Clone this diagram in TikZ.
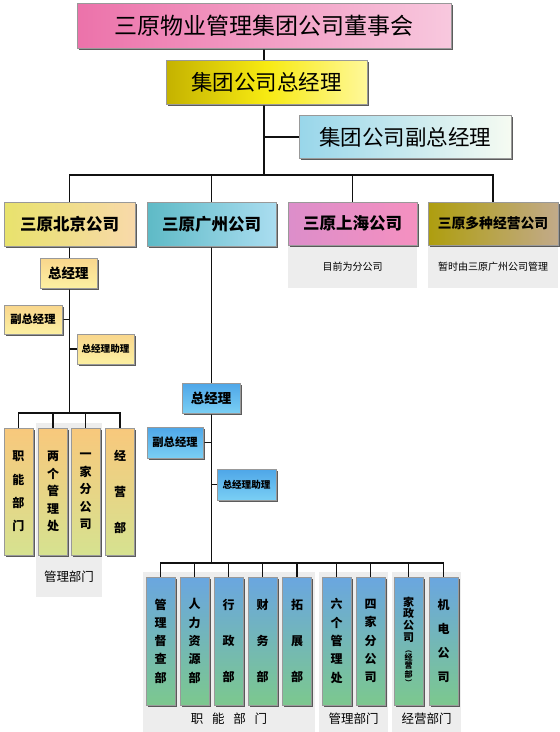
\documentclass[tikz,border=0pt]{standalone}
\usepackage{fontspec}
\setmainfont{Noto Sans CJK SC}
\usetikzlibrary{shadows}
\pgfdeclarelayer{whitelayer}
\pgfdeclarelayer{graylayer}
\pgfdeclarelayer{linelayer}
\pgfsetlayers{whitelayer,graylayer,linelayer,main}
\definecolor{lnk}{HTML}{111111}
\definecolor{HTMLboardL}{HTML}{EC72AA}
\definecolor{HTMLboardR}{HTML}{F8C8DE}
\definecolor{HTMLgmL}{HTML}{C4B200}
\definecolor{HTMLgmM}{HTML}{F7EA12}
\definecolor{HTMLgmR}{HTML}{FFF89A}
\definecolor{HTMLvgmL}{HTML}{98D6EA}
\definecolor{HTMLvgmR}{HTML}{F6FBF2}
\definecolor{HTMLbjL}{HTML}{E8E26C}
\definecolor{HTMLbjR}{HTML}{F8D9AA}
\definecolor{HTMLgzL}{HTML}{5EBAC6}
\definecolor{HTMLgzR}{HTML}{AADDF0}
\definecolor{HTMLshL}{HTML}{DC8ECA}
\definecolor{HTMLshR}{HTML}{F590C0}
\definecolor{HTMLdzL}{HTML}{AE9E0E}
\definecolor{HTMLdzR}{HTML}{C2AA8A}
\definecolor{HTMLbjsT}{HTML}{F9D68C}
\definecolor{HTMLbjsB}{HTML}{FCF0A2}
\definecolor{HTMLbjtT}{HTML}{F8C87C}
\definecolor{HTMLbjtM}{HTML}{FFF6A6}
\definecolor{HTMLbjtB}{HTML}{D6E290}
\definecolor{HTMLgzsT}{HTML}{4EA6E8}
\definecolor{HTMLgzsB}{HTML}{7ACFF4}
\definecolor{HTMLgztT}{HTML}{6AA6E0}
\definecolor{HTMLgztM}{HTML}{82D0F0}
\definecolor{HTMLgztB}{HTML}{7CC88E}
\begin{document}
\begin{tikzpicture}[x=1pt,y=-1pt,
  sz/.style 2 args={minimum width=#1pt, minimum height=#2pt},
  box/.style={draw=black!40, line width=0.4pt, inner sep=0pt, text=black,
    drop shadow={shadow xshift=1.8pt, shadow yshift=-1.8pt, fill=black!75, opacity=0.85}},
  conn/.style={draw=lnk, line width=1.7pt},
  graybg/.style={fill=black!7, draw=none, inner sep=0pt},
  boardst/.style={box, left color=HTMLboardL, right color=HTMLboardR},
  gmst/.style={box, left color=HTMLgmL, right color=HTMLgmR, middle color=HTMLgmM},
  vgmst/.style={box, left color=HTMLvgmL, right color=HTMLvgmR},
  bjst/.style={box, left color=HTMLbjL, right color=HTMLbjR},
  gzst/.style={box, left color=HTMLgzL, right color=HTMLgzR},
  shst/.style={box, left color=HTMLshL, right color=HTMLshR},
  dzst/.style={box, left color=HTMLdzL, right color=HTMLdzR},
  bjsmall/.style={box, top color=HTMLbjsT, bottom color=HTMLbjsB},
  bjtall/.style={box, top color=HTMLbjtT, middle color=HTMLbjtM, bottom color=HTMLbjtB, align=center, sz={29}{127}},
  gzsmall/.style={box, top color=HTMLgzsT, bottom color=HTMLgzsB},
  gztall/.style={box, top color=HTMLgztT, middle color=HTMLgztM, bottom color=HTMLgztB, align=center, sz={29}{128}},
  bigf/.style={font=\fontsize{23}{26}\selectfont},
  midf/.style={font=\fontsize{21.5}{24}\selectfont},
  brf/.style={font=\bfseries\fontsize{16.5}{20}\selectfont},
  note/.style={font=\fontsize{10}{12}\selectfont},
]
\begin{pgfonlayer}{whitelayer}
\path[use as bounding box, fill=white] (0,0) rectangle (560,732);
\end{pgfonlayer}

% gray backgrounds
\begin{pgfonlayer}{graylayer}
\node[graybg, sz={129}{43}] (shnote) at (352.5,266.5) {};
\node[graybg, sz={130}{43}] (dznote) at (493,266.5) {};
\node[graybg, sz={66}{174}] (bjmg) at (69,510) {};
\node[graybg, sz={172}{160}] (gzzn) at (229,652) {};
\node[graybg, sz={69}{160}] (gzmg) at (353.5,652) {};
\node[graybg, sz={69}{160}] (gzjy) at (426.5,652) {};
\end{pgfonlayer}

% coordinates
\coordinate (bus) at (264,175);
\coordinate (bjbus) at (69.5,413);
\coordinate (gzbus) at (211.5,563);

% top
\node[boardst, bigf, sz={374}{45}] (board) at (264,25.5) {三原物业管理集团公司董事会};
\node[gmst, midf, sz={201}{44}] (gm) at (266.5,82) {集团公司总经理};
\node[vgmst, midf, sz={212}{43}] (vgm) at (405,137) {集团公司副总经理};

% branches
\node[bjst, brf, sz={131}{44}] (bj) at (69.5,224) {三原北京公司};
\node[gzst, brf, sz={129}{44}] (gz) at (211.5,224) {三原广州公司};
\node[shst, brf, sz={129}{43}] (sh) at (352.5,223.5) {三原上海公司};
\node[dzst, font=\bfseries\fontsize{13.8}{16}\selectfont, sz={130}{43}] (dz) at (493,223.5) {三原多种经营公司};

\node[note] (shtxt) at (shnote.center) {目前为分公司};
\node[note] (dztxt) at (dznote.center) {暂时由三原广州公司管理};

% Beijing
\node[bjsmall, font=\bfseries\fontsize{13.5}{15}\selectfont, sz={57}{30}] (bjgm) at (68.5,273) {总经理};
\node[bjsmall, font=\bfseries\fontsize{11.3}{13}\selectfont, sz={58}{29}] (bjvgm) at (33,319.5) {副总经理};
\node[bjsmall, font=\bfseries\fontsize{9.6}{12}\selectfont, sz={57}{30}] (bjast) at (105.5,349) {总经理助理};

\node[bjtall, font=\bfseries\fontsize{12}{23.3}\selectfont] (b1) at (18.5,491.5) {职\\能\\部\\门};
\node[bjtall, font=\bfseries\fontsize{12}{17.5}\selectfont] (b2) at (53,491.5) {两\\个\\管\\理\\处};
\node[bjtall, font=\bfseries\fontsize{12}{17.5}\selectfont] (b3) at (85.5,491.5) {一\\家\\分\\公\\司};
\node[bjtall, font=\bfseries\fontsize{12}{36}\selectfont] (b4) at (120,491.5) {经\\营\\部};
\node[font=\fontsize{12.5}{14}\selectfont] (bjmgtxt) at (69,577) {管理部门};

% Guangzhou
\node[gzsmall, font=\bfseries\fontsize{13.5}{15}\selectfont, sz={58}{30}] (gzgm) at (211,398) {总经理};
\node[gzsmall, font=\bfseries\fontsize{11.3}{13}\selectfont, sz={56}{31}] (gzvgm) at (175,442.5) {副总经理};
\node[gzsmall, font=\bfseries\fontsize{9.6}{12}\selectfont, sz={59}{31}] (gzast) at (246.5,484.5) {总经理助理};

\node[gztall, font=\bfseries\fontsize{12}{18.3}\selectfont] (g1) at (160.5,641) {管\\理\\督\\查\\部};
\node[gztall, font=\bfseries\fontsize{12}{18.3}\selectfont] (g2) at (194.5,641) {人\\力\\资\\源\\部};
\node[gztall, font=\bfseries\fontsize{12}{36}\selectfont] (g3) at (228.5,641) {行\\政\\部};
\node[gztall, font=\bfseries\fontsize{12}{36}\selectfont] (g4) at (262.5,641) {财\\务\\部};
\node[gztall, font=\bfseries\fontsize{12}{36}\selectfont] (g5) at (297,641) {拓\\展\\部};
\node[gztall, font=\bfseries\fontsize{12}{18.3}\selectfont] (g6) at (336.5,641) {六\\个\\管\\理\\处};
\node[gztall, font=\bfseries\fontsize{12}{18.3}\selectfont] (g7) at (370.5,641) {四\\家\\分\\公\\司};
\node[gztall, font=\bfseries\fontsize{11}{11.8}\selectfont] (g8) at (408.5,641) {家\\政\\公\\司\\[-1pt]{\fontsize{7}{8}\selectfont ︵}\\[-4pt]{\fontsize{8}{9}\selectfont 经}\\[-3pt]{\fontsize{8}{9}\selectfont 营}\\[-3pt]{\fontsize{8}{9}\selectfont 部}\\[-4pt]{\fontsize{7}{8}\selectfont ︶}};
\node[gztall, font=\bfseries\fontsize{12}{24}\selectfont] (g9) at (443.5,641) {机\\电\\公\\司};

\node[font=\fontsize{12.5}{14}\selectfont] (gzzntxt) at (229,719) {职\hspace{0.7em}能\hspace{0.7em}部\hspace{0.7em}门};
\node[font=\fontsize{12.5}{14}\selectfont] (gzmgtxt) at (353.5,719) {管理部门};
\node[font=\fontsize{12.5}{14}\selectfont] (gzjytxt) at (426.5,719) {经营部门};

% connectors
\begin{pgfonlayer}{linelayer}
\draw[conn] (board.south) -- (bus);
\draw[conn] (vgm.west) -- (vgm.west -| bus);
\draw[conn] (bj.north) -- (bj.north |- bus) -- (dz.north |- bus) -- (dz.north);
\draw[conn] (gz.north) -- (gz.north |- bus);
\draw[conn] (sh.north) -- (sh.north |- bus);
% Beijing
\draw[conn] (bj.south) -- (bjbus);
\draw[conn] (bjvgm.east) -- (bjvgm.east -| bjbus);
\draw[conn] (bjast.west) -- (bjast.west -| bjbus);
\draw[conn] (b1.north) -- (b1.north |- bjbus) -- (b4.north |- bjbus) -- (b4.north);
\draw[conn] (b2.north) -- (b2.north |- bjbus);
\draw[conn] (b3.north) -- (b3.north |- bjbus);
% Guangzhou
\draw[conn] (gz.south) -- (gzbus);
\draw[conn] (gzvgm.east) -- (gzvgm.east -| gzbus);
\draw[conn] (gzast.west) -- (gzast.west -| gzbus);
\draw[conn] (g1.north) -- (g1.north |- gzbus) -- (g9.north |- gzbus) -- (g9.north);
\foreach \n in {g2,g3,g4,g5,g6,g7,g8}
  \draw[conn] (\n.north) -- (\n.north |- gzbus);
\end{pgfonlayer}
\end{tikzpicture}
\end{document}
